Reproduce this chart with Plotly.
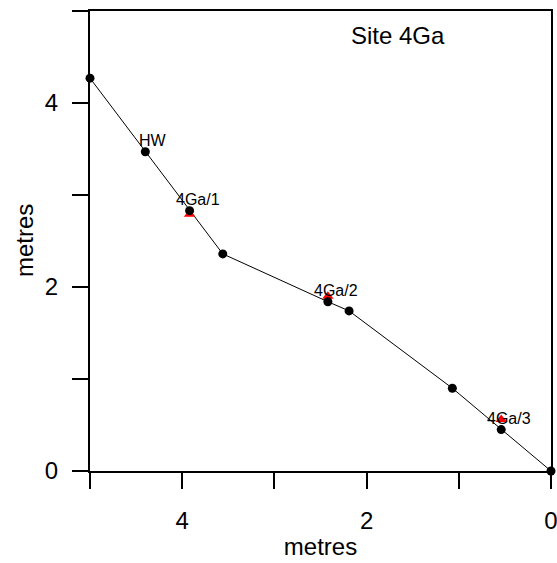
import plotly.graph_objects as go

# Profile points (black circles)
profile_x = [5.0, 4.40, 3.92, 3.56, 2.42, 2.19, 1.07, 0.54, 0.0]
profile_y = [4.27, 3.47, 2.83, 2.36, 1.84, 1.74, 0.90, 0.45, 0.0]

# Sample points (red triangles)
sample_x = [3.92, 2.42, 0.54]
sample_y = [2.79, 1.90, 0.56]

# Point labels
label_text = ["HW", "4Ga/1", "4Ga/2", "4Ga/3"]
label_x = [4.40, 3.92, 2.42, 0.54]
label_y = [3.47, 2.83, 1.84, 0.45]

tick_vals = [0, 1, 2, 3, 4, 5]
tick_text = ["0", "", "2", "", "4", ""]

FONT = "Liberation Sans, Arial, sans-serif"

fig = go.Figure()
fig.add_trace(go.Scatter(
    x=profile_x, y=profile_y, mode="lines",
    line=dict(color="black", width=1), hoverinfo="skip", cliponaxis=False))
fig.add_trace(go.Scatter(
    x=sample_x, y=sample_y, mode="markers",
    marker=dict(symbol="triangle-up", size=10, color="red"), cliponaxis=False))
fig.add_trace(go.Scatter(
    x=profile_x, y=profile_y, mode="markers",
    marker=dict(symbol="circle", size=9, color="black"), cliponaxis=False))

for t, x, y in zip(label_text, label_x, label_y):
    fig.add_annotation(x=x, y=y, text=t, showarrow=False, xshift=8, yshift=11,
                       font=dict(family=FONT, size=16, color="black"))

fig.add_annotation(x=0.668, y=0.946, xref="paper", yref="paper", text="Site 4Ga",
                   xanchor="center", yanchor="middle",
                   showarrow=False, font=dict(family=FONT, size=24, color="black"))

# y-axis title
fig.add_annotation(x=-0.143, y=0.5, xref="paper", yref="paper", text="metres",
                   textangle=-90, xanchor="center", yanchor="middle",
                   showarrow=False, font=dict(family=FONT, size=24, color="black"))

axis_common = dict(
    showline=True, linecolor="black", linewidth=2, mirror=True,
    ticks="outside", ticklen=16, tickwidth=2, tickcolor="black",
    showgrid=False, zeroline=False, automargin=False,
    tickvals=tick_vals, ticktext=tick_text, ticklabeloverflow="allow",
    tickfont=dict(family=FONT, size=24, color="black"),
)

fig.update_layout(
    width=557, height=563,
    margin=dict(l=90, r=6, t=11, b=92),
    paper_bgcolor="white", plot_bgcolor="white",
    showlegend=False,
    xaxis=dict(range=[5, 0], ticklabelstandoff=11,
               title=dict(text="metres", standoff=5,
                          font=dict(family=FONT, size=24, color="black")),
               **axis_common),
    yaxis=dict(range=[0, 5], ticklabelstandoff=9, **axis_common),
)

fig.write_html("out.html", config={"displayModeBar": False},
               post_script="document.body.style.margin='0';document.body.style.overflow='hidden';")
